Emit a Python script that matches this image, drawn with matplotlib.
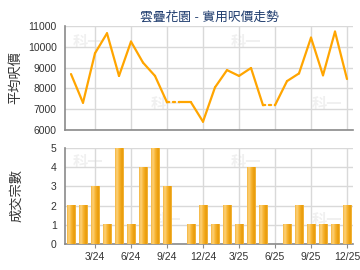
import matplotlib
matplotlib.use("Agg")
import matplotlib.pyplot as plt
import numpy as np
from matplotlib.colors import LinearSegmentedColormap

plt.rcParams['font.family'] = ['Liberation Sans', 'Noto Sans CJK TC', 'DejaVu Sans']

title = "雲疊花園 - 實用呎價走勢"
ylabel_top = "平均呎價"
ylabel_bottom = "成交宗數"
months = ["1/24", "2/24", "3/24", "4/24", "5/24", "6/24", "7/24", "8/24", "9/24", "10/24",
          "11/24", "12/24", "1/25", "2/25", "3/25", "4/25", "5/25", "6/25", "7/25", "8/25",
          "9/25", "10/25", "11/25", "12/25"]
prices = [8690, 7310, 9690, 10650, 8600, 10250, 9240, 8600, 7330, 7330,
          7330, 6400, 8050, 8880, 8600, 8980, 7190, 7190, 8350, 8720,
          10440, 8630, 10730, 8450]
counts = [2, 2, 3, 1, 5, 1, 4, 5, 3, 0, 1, 2, 1, 2, 1, 4, 2, 0, 1, 2, 1, 1, 1, 2]
tick_labels = ["3/24", "6/24", "9/24", "12/24", "3/25", "6/25", "9/25", "12/25"]

x = np.arange(len(months))
tick_pos = [months.index(t) for t in tick_labels]

fig = plt.figure(figsize=(3.6, 2.7), dpi=100)
ax1 = fig.add_axes([65/360, 1-130/270, 288/360, 104/270])
ax2 = fig.add_axes([65/360, 1-244/270, 288/360, 96/270])

grid_c = '#d9d9d9'
spine_c = '#8a8a8a'
txt_c = '#333333'
line_c = '#ffa500'

for ax in (ax1, ax2):
    ax.set_xlim(-0.5, len(months) - 0.5)
    ax.set_xticks(tick_pos)
    ax.grid(True, color=grid_c, linewidth=1)
    ax.set_axisbelow(True)
    for s in ('top', 'right'):
        ax.spines[s].set_visible(False)
    for s in ('left', 'bottom'):
        ax.spines[s].set_color(spine_c)
        ax.spines[s].set_linewidth(1.2)
    ax.tick_params(length=0, labelsize=7.5, colors=txt_c, pad=6)
ax2.tick_params(axis='x', length=3, color=spine_c, pad=3)

# watermark
for ax in (ax1, ax2):
    for (wx, wy) in [(0.08, 0.85), (0.63, 0.85), (0.35, 0.25), (0.91, 0.25)]:
        ax.text(wx, wy, "科一", transform=ax.transAxes, fontsize=11, color='#f0f0f0',
                ha='center', va='center', fontweight='bold', zorder=0.5,
                family=['Noto Sans CJK TC'])

# line
for i in range(len(x) - 1):
    ls = ':' if counts[i + 1] == 0 else '-'
    ax1.plot(x[i:i+2], prices[i:i+2], color=line_c, linewidth=1.6, linestyle=ls,
             solid_capstyle='round', dash_capstyle='round', zorder=3)
ax1.set_ylim(6000, 11000)
ax1.set_yticks(range(6000, 11001, 1000))
ax1.set_xticklabels([])
ax1.set_ylabel(ylabel_top, fontsize=9.5, color=txt_c, labelpad=4)
ax1.set_title(title, fontsize=9.2, color='#1f3c6e', pad=4)

# bars with gradient
bw = 0.74
cmap = LinearSegmentedColormap.from_list('bar', [
    (0.0, '#f4b640'), (0.22, '#fdd27a'), (0.5, '#f7b330'),
    (0.82, '#e89a08'), (0.92, '#eda41c'), (1.0, '#f8c860')])
grad = np.linspace(0, 1, 64).reshape(1, -1)
bars = ax2.bar(x, counts, width=bw, color='none', edgecolor='none', zorder=3)
for xi, c in zip(x, counts):
    if c > 0:
        ax2.imshow(grad, cmap=cmap, aspect='auto', zorder=3,
                   extent=[xi - bw/2, xi + bw/2, 0, c], interpolation='bilinear')
ax2.set_xlim(-0.5, len(months) - 0.5)
ax2.set_ylim(0, 5)
ax2.set_yticks(range(0, 6))
ax2.set_xticklabels(tick_labels)
ax2.set_ylabel(ylabel_bottom, fontsize=9.5, color=txt_c, labelpad=20)

fig.savefig("out.png", dpi=100)
